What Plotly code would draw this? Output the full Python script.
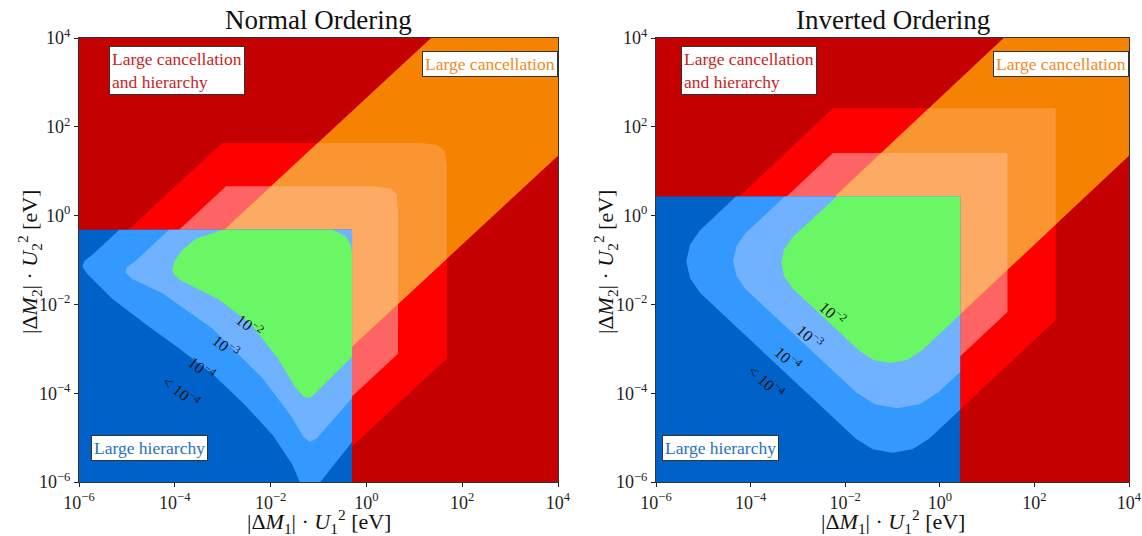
import plotly.graph_objects as go

# ---------------------------------------------------------------------------
# Axis decades (log10 of eV) and tick labels
LOG_MIN, LOG_MAX = -6.0, 4.0
TICK_EXP = [-6, -4, -2, 0, 2, 4]
TICK_TEXT = ["10<sup>−6</sup>", "10<sup>−4</sup>", "10<sup>−2</sup>",
             "10<sup>0</sup>", "10<sup>2</sup>", "10<sup>4</sup>"]
PANEL_TITLES = ["Normal Ordering", "Inverted Ordering"]
CONTOUR_LABELS = ["10<sup>−2</sup>", "10<sup>−3</sup>", "10<sup>−4</sup>", "&lt; 10<sup>−4</sup>"]

# ---------------------------------------------------------------------------
# Normal ordering (all coordinates are log10 of |dM1|U1^2, |dM2|U2^2)
NO_BAND_HALF = 2.65            # |log y - log x| < this : large cancellation
NO_BOX_X, NO_BOX_Y = -0.30, -0.32   # below both : large hierarchy
# contour outlines outside the hierarchy box (10^-4 and 10^-3 levels)
NO_L4_OUTER = [(-3.01, 1.635), (1.15, 1.635), (1.48, 1.59), (1.64, 1.45), (1.68, 1.12),
               (1.68, -3.22), (-0.6, -5.5), (-5.3, -0.65)]
NO_L3_OUTER = [(-2.93, 0.66), (0.16, 0.66), (0.50, 0.61), (0.63, 0.48), (0.66, 0.16),
               (0.66, -3.11), (-0.6, -4.37), (-4.3, -0.71)]
# contour outlines inside the hierarchy box (10^-4, 10^-3, 10^-2 levels)
NO_L4_HIER = [(-4.3, 0.53), (-5.72, -0.88), (-5.89, -1.02), (-5.93, -1.15), (-5.82, -1.32),
              (-5.30, -1.88), (-4.6, -2.45), (-3.9, -3.0), (-3.2, -3.58), (-2.55, -4.25),
              (-1.95, -4.95), (-1.55, -5.6), (-1.35, -6.1), (-1.18, -6.3), (-1.0, -6.05),
              (-0.3, -5.1), (0.6, -4.1), (0.6, 0.6)]
NO_L3_HIER = [(-3.3, 0.5), (-4.85, -1.05), (-5.0, -1.16), (-5.03, -1.28), (-4.9, -1.42),
              (-4.26, -1.75), (-3.21, -2.55), (-2.17, -3.66), (-1.55, -4.55), (-1.32, -4.98),
              (-1.18, -5.10), (-1.04, -5.02), (-0.3, -4.11), (0.6, -3.0), (0.6, 0.6)]
NO_L2_HIER = [(-3.0, -0.32), (-3.56, -0.52), (-3.85, -0.78), (-4.0, -1.02), (-4.06, -1.22),
              (-4.0, -1.35), (-3.89, -1.45), (-3.1, -1.88), (-2.42, -2.43), (-1.86, -3.2),
              (-1.45, -3.92), (-1.30, -4.08), (-1.18, -4.11), (-1.08, -4.02), (-0.3, -3.18),
              (-0.3, -0.88), (-0.33, -0.65), (-0.45, -0.45), (-0.72, -0.32)]
NO_LABEL_POS = [(-2.44, -2.46), (-2.93, -2.94), (-3.43, -3.43), (-3.87, -3.95)]

# ---------------------------------------------------------------------------
# Inverted ordering
IO_BAND_HALF = 2.65
IO_BOX_X, IO_BOX_Y = 0.43, 0.43
IO_L4_OUTER = [(-2.26, 2.42), (2.45, 2.42), (2.45, -2.35), (0.0, -4.8), (-4.9, -0.24)]
IO_L3_OUTER = [(-2.26, 1.41), (1.43, 1.41), (1.43, -2.17), (0.0, -3.6), (-3.9, -0.23)]
IO_L4_HIER = [(-3.5, 1.24), (-5.07, -0.33), (-5.28, -0.65), (-5.36, -1.03), (-5.28, -1.41),
              (-5.07, -1.74), (-1.78, -5.02), (-1.42, -5.26), (-1.0, -5.34), (-0.58, -5.26),
              (-0.22, -5.02), (1.0, -3.8), (1.0, 1.24)]
IO_L3_HIER = [(-2.5, 1.21), (-4.12, -0.41), (-4.30, -0.69), (-4.37, -1.02), (-4.30, -1.35),
              (-4.12, -1.64), (-1.77, -3.98), (-1.37, -4.25), (-0.9, -4.34), (-0.43, -4.25),
              (-0.03, -3.98), (1.0, -2.95), (1.0, 1.21)]
IO_L2_HIER = [(-1.6, 1.0), (-3.11, -0.49), (-3.29, -0.755), (-3.35, -1.065), (-3.29, -1.375),
              (-3.11, -1.64), (-1.70, -3.05), (-1.40, -3.25), (-1.045, -3.32), (-0.69, -3.25),
              (-0.39, -3.05), (1.0, -1.66), (1.0, 1.0)]
IO_LABEL_POS = [(-2.26, -2.19), (-2.75, -2.72), (-3.21, -3.21), (-3.67, -3.73)]

# ---------------------------------------------------------------------------
# Colours
DARK_RED, BRIGHT_RED, PINK = "#c40000", "#ff0000", "#ff6464"
ORANGE, ORANGE_MID, ORANGE_LIGHT = "#f58200", "#f99632", "#fdaa64"
BLUE_DARK, BLUE_MID, BLUE_LIGHT = "#0062c8", "#3399ff", "#70b2ff"
GREEN = "#6af765"
SERIF = "Liberation Serif, Times New Roman, serif"


def clip_half(poly, a, b, c):
    """Keep the part of poly with a*x + b*y <= c (Sutherland-Hodgman step)."""
    out = []
    n = len(poly)
    for i in range(n):
        p, q = poly[i], poly[(i + 1) % n]
        fp = a * p[0] + b * p[1] - c
        fq = a * q[0] + b * q[1] - c
        if fp <= 0:
            out.append(p)
        if fp * fq < 0:
            t = fp / (fp - fq)
            out.append((p[0] + t * (q[0] - p[0]), p[1] + t * (q[1] - p[1])))
    return out


def clip_frame(poly):
    poly = clip_half(poly, -1, 0, -LOG_MIN)
    poly = clip_half(poly, 1, 0, LOG_MAX)
    poly = clip_half(poly, 0, -1, -LOG_MIN)
    return clip_half(poly, 0, 1, LOG_MAX)


def clip_band(poly, half):
    poly = clip_half(poly, -1, 1, half)
    return clip_half(poly, 1, -1, half)


def clip_box(poly, bx, by):
    poly = clip_half(poly, 1, 0, bx)
    return clip_half(poly, 0, 1, by)


def area(poly, color, xa, ya):
    poly = clip_frame(poly)
    xs = [10 ** p[0] for p in poly] + [10 ** poly[0][0]]
    ys = [10 ** p[1] for p in poly] + [10 ** poly[0][1]]
    return go.Scatter(x=xs, y=ys, mode="lines", fill="toself", fillcolor=color,
                      line=dict(width=0, color=color), hoverinfo="skip",
                      showlegend=False, xaxis=xa, yaxis=ya)


FRAME = [(LOG_MIN, LOG_MIN), (LOG_MAX, LOG_MIN), (LOG_MAX, LOG_MAX), (LOG_MIN, LOG_MAX)]


def panel(xa, ya, band, bx, by, l4o, l3o, l4h, l3h, l2h):
    return [area(FRAME, DARK_RED, xa, ya),
            area(l4o, BRIGHT_RED, xa, ya),
            area(l3o, PINK, xa, ya),
            area(clip_band(FRAME, band), ORANGE, xa, ya),
            area(clip_band(l4o, band), ORANGE_MID, xa, ya),
            area(clip_band(l3o, band), ORANGE_LIGHT, xa, ya),
            area(clip_box(FRAME, bx, by), BLUE_DARK, xa, ya),
            area(clip_box(l4h, bx, by), BLUE_MID, xa, ya),
            area(clip_box(l3h, bx, by), BLUE_LIGHT, xa, ya),
            area(clip_box(l2h, bx, by), GREEN, xa, ya)]


fig = go.Figure()
for t in panel("x", "y", NO_BAND_HALF, NO_BOX_X, NO_BOX_Y,
               NO_L4_OUTER, NO_L3_OUTER, NO_L4_HIER, NO_L3_HIER, NO_L2_HIER):
    fig.add_trace(t)
for t in panel("x2", "y2", IO_BAND_HALF, IO_BOX_X, IO_BOX_Y,
               IO_L4_OUTER, IO_L3_OUTER, IO_L4_HIER, IO_L3_HIER, IO_L2_HIER):
    fig.add_trace(t)

W, H = 1142, 536
X_DOMAINS = [[79 / W, 558 / W], [656 / W, 1129 / W]]
Y_DOMAIN = [1 - 482 / H, 1 - 38 / H]

axis_common = dict(type="log", range=[LOG_MIN, LOG_MAX], showgrid=False, zeroline=False,
                   automargin=False,
                   ticks="outside", ticklen=4, tickwidth=1, tickcolor="#222",
                   showline=True, linecolor="#333", linewidth=1, mirror=True,
                   tickvals=[10.0 ** e for e in TICK_EXP], ticktext=TICK_TEXT,
                   tickfont=dict(family=SERIF, size=18, color="#222"))

fig.update_layout(
    width=W, height=H, margin=dict(l=0, r=0, t=0, b=0, autoexpand=False),
    paper_bgcolor="white", plot_bgcolor="white",
    xaxis=dict(domain=X_DOMAINS[0], anchor="y", **axis_common),
    yaxis=dict(domain=Y_DOMAIN, anchor="x", **axis_common),
    xaxis2=dict(domain=X_DOMAINS[1], anchor="y2", **axis_common),
    yaxis2=dict(domain=Y_DOMAIN, anchor="x2", **axis_common),
)

ann = []
x_title = "|Δ<i>M</i><sub>1</sub>| · <i>U</i><sub>1</sub><sup>2</sup> [eV]"
y_title = "|Δ<i>M</i><sub>2</sub>| · <i>U</i><sub>2</sub><sup>2</sup> [eV]"
centered = dict(xanchor="center", yanchor="middle", showarrow=False,
                xref="paper", yref="paper")
for i, (dom, title) in enumerate(zip(X_DOMAINS, PANEL_TITLES)):
    cx = (dom[0] + dom[1]) / 2
    ann.append(dict(x=cx, y=1 - 20 / H, text=title,
                    font=dict(family=SERIF, size=27, color="#111"), **centered))
    ann.append(dict(x=cx, y=1 - 521 / H, text=x_title,
                    font=dict(family=SERIF, size=22, color="#111"), **centered))
    ann.append(dict(x=(29 if i == 0 else 605) / W, y=1 - 262 / H, text=y_title,
                    textangle=-90, font=dict(family=SERIF, size=22, color="#111"),
                    **centered))

box_style = dict(showarrow=False, bgcolor="white", bordercolor="#333", borderwidth=1,
                 borderpad=2, align="left")
for xr, yr, lab_pos, left_a, left_h, angle in (
        ("x", "y", NO_LABEL_POS, -5.37, -5.75, 38),
        ("x2", "y2", IO_LABEL_POS, -5.47, -5.87, 42)):
    ann.append(dict(x=left_a, y=3.82, xref=xr, yref=yr, xanchor="left", yanchor="top",
                    text="Large cancellation<br>and hierarchy",
                    font=dict(family=SERIF, size=17.5, color="#c81e1e"), **box_style))
    ann.append(dict(x=4.0, y=3.71, xref=xr, yref=yr, xanchor="right", yanchor="top",
                    text="Large cancellation",
                    font=dict(family=SERIF, size=17.5, color="#f08a1e"), **box_style))
    ann.append(dict(x=left_h, y=-5.52, xref=xr, yref=yr, xanchor="left", yanchor="bottom",
                    text="Large hierarchy",
                    font=dict(family=SERIF, size=17.5, color="#2a6fc0"), **box_style))
    for (lx, ly), txt in zip(lab_pos, CONTOUR_LABELS):
        ann.append(dict(x=lx, y=ly, xref=xr, yref=yr, text=txt, textangle=angle,
                        xanchor="center", yanchor="middle",
                        showarrow=False, font=dict(family=SERIF, size=16, color="#111")))

fig.update_layout(annotations=ann)
fig.write_html("out.html")
